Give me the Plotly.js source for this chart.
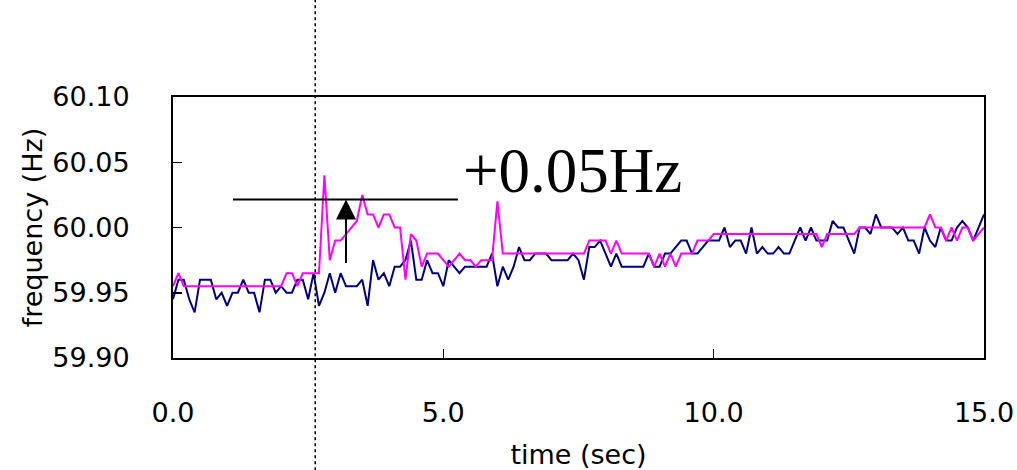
<!DOCTYPE html>
<html>
<head>
<meta charset="utf-8">
<script src="https://cdn.plot.ly/plotly-3.0.1.min.js"></script>
<style>html,body{margin:0;padding:0;background:#fff;}#chart{width:1017px;height:470px;}</style>
</head>
<body>
<div id="chart"></div>
<script>
// sampling: 0.1 s steps from 0 to 15 s
const timeStart = 0;
const timeStep = 0.1;

const navySeries = [
59.945,59.96,59.96,59.945,59.935,59.96,59.96,59.96,59.945,59.95,
59.94,59.95,59.95,59.96,59.95,59.95,59.935,59.96,59.96,59.95,
59.955,59.95,59.95,59.96,59.96,59.945,59.965,59.94,59.95,59.965,
59.95,59.965,59.955,59.955,59.955,59.96,59.94,59.975,59.96,59.965,
59.955,59.97,59.97,59.975,59.99,59.96,59.96,59.975,59.965,59.965,
59.955,59.975,59.97,59.965,59.97,59.97,59.97,59.97,59.97,59.98,
59.955,59.97,59.96,59.97,59.985,59.975,59.975,59.98,59.98,59.98,
59.975,59.975,59.975,59.975,59.98,59.975,59.96,59.985,59.985,59.99,
59.98,59.97,59.98,59.97,59.97,59.97,59.97,59.97,59.98,59.97,
59.97,59.98,59.98,59.985,59.99,59.99,59.98,59.98,59.985,59.99,
59.99,59.99,60.00,59.985,59.99,59.99,59.98,60.00,59.98,59.985,
59.98,59.98,59.985,59.98,59.98,59.99,60.00,59.99,60.00,59.99,
59.99,59.99,60.005,60.00,60.00,59.99,59.98,60.00,60.00,59.995,
60.01,60.00,60.00,60.00,59.995,60.00,59.99,59.99,59.98,60.00,
59.99,59.985,60.00,59.99,59.99,60.00,60.005,60.00,59.99,60.00,
60.01
];

const magentaSeries = [
59.955,59.965,59.955,59.955,59.955,59.955,59.955,59.955,59.955,59.955,
59.955,59.955,59.955,59.955,59.955,59.955,59.955,59.955,59.955,59.955,
59.955,59.965,59.965,59.955,59.965,59.965,59.965,59.965,60.04,59.975,
59.99,59.99,59.995,60.00,60.005,60.025,60.01,60.01,60.00,60.01,
60.01,60.00,60.00,59.96,59.995,59.99,59.97,59.98,59.98,59.98,
59.975,59.97,59.975,59.98,59.975,59.975,59.97,59.975,59.975,59.975,
60.02,59.98,59.98,59.98,59.98,59.98,59.98,59.98,59.98,59.98,
59.98,59.98,59.98,59.98,59.98,59.98,59.98,59.99,59.99,59.99,
59.99,59.98,59.99,59.98,59.98,59.98,59.98,59.98,59.98,59.97,
59.98,59.97,59.98,59.97,59.98,59.98,59.98,59.99,59.99,59.99,
59.995,59.995,59.995,59.995,59.995,59.995,59.995,59.995,59.995,59.995,
59.995,59.995,59.995,59.995,59.995,59.995,59.995,59.995,59.995,59.995,
59.985,59.995,59.995,59.995,59.995,59.995,59.995,60.00,60.00,60.00,
60.00,60.00,60.00,60.00,60.00,60.00,60.00,60.00,60.00,60.00,
60.01,60.00,60.00,59.99,60.00,59.99,60.00,60.00,59.99,59.995,
60.00
];

const xTickVals = [0, 5, 10, 15];
const xTickText = ['0.0', '5.0', '10.0', '15.0'];
const yTickVals = [59.90, 59.95, 60.00, 60.05, 60.10];
const yTickText = ['59.90', '59.95', '60.00', '60.05', '60.10'];

// annotations
const eventTime = 2.63;
const refLine = {x0: 1.11, x1: 5.27, y: 60.0215};
const arrow = {x: 3.2, yFrom: 59.9716, yTo: 60.0215};
const deltaLabel = {text: '+0.05Hz', x: 7.38, y: 60.043};

const traces = [
  {type: 'scatter', mode: 'lines', x0: timeStart, dx: timeStep, y: navySeries,
   line: {color: '#000080', width: 2}, hoverinfo: 'skip'},
  {type: 'scatter', mode: 'lines', x0: timeStart, dx: timeStep, y: magentaSeries,
   line: {color: '#FF00FF', width: 2}, hoverinfo: 'skip'}
];

const axisFont = {family: 'DejaVu Sans', size: 27, color: '#000'};
const titleFont = {family: 'DejaVu Sans', size: 27, color: '#000'};

const layout = {
  width: 1017, height: 470,
  margin: {l: 173, r: 33, t: 97, b: 112, pad: 0},
  paper_bgcolor: '#fff', plot_bgcolor: '#fff',
  showlegend: false,
  xaxis: {
    range: [0, 15], tickvals: xTickVals, ticktext: xTickText,
    ticks: 'inside', ticklen: 9, tickwidth: 1.5, tickcolor: '#000',
    showline: true, mirror: true, linecolor: '#000', linewidth: 2,
    showgrid: false, zeroline: false,
    tickfont: axisFont, ticklabelstandoff: 30,
    title: {text: 'time (sec)', font: titleFont, standoff: 18}
  },
  yaxis: {
    range: [59.90, 60.10], tickvals: yTickVals, ticktext: yTickText,
    ticks: 'inside', ticklen: 9, tickwidth: 1.5, tickcolor: '#000',
    showline: true, mirror: true, linecolor: '#000', linewidth: 2,
    showgrid: false, zeroline: false,
    tickfont: axisFont, ticklabelstandoff: 36,
    title: {text: 'frequency (Hz)', font: titleFont, standoff: 2}
  },
  shapes: [
    {type: 'line', xref: 'x', yref: 'paper', x0: eventTime, x1: eventTime, y0: -0.43, y1: 1.38,
     line: {color: '#000', width: 1.5, dash: 'dot'}},
    {type: 'line', xref: 'x', yref: 'y', x0: refLine.x0, x1: refLine.x1, y0: refLine.y, y1: refLine.y,
     line: {color: '#000', width: 2}}
  ],
  annotations: [
    {x: arrow.x, y: arrow.yTo, ax: arrow.x, ay: arrow.yFrom, xref: 'x', yref: 'y', axref: 'x', ayref: 'y',
     showarrow: true, arrowhead: 2, arrowsize: 2, arrowwidth: 2, arrowcolor: '#000', text: ''},
    {x: deltaLabel.x, y: deltaLabel.y, xref: 'x', yref: 'y', text: deltaLabel.text, showarrow: false,
     xanchor: 'center', yanchor: 'middle',
     font: {family: 'Liberation Serif', size: 63, color: '#000'}}
  ]
};

Plotly.newPlot('chart', traces, layout, {displayModeBar: false, staticPlot: true});
</script>
</body>
</html>
